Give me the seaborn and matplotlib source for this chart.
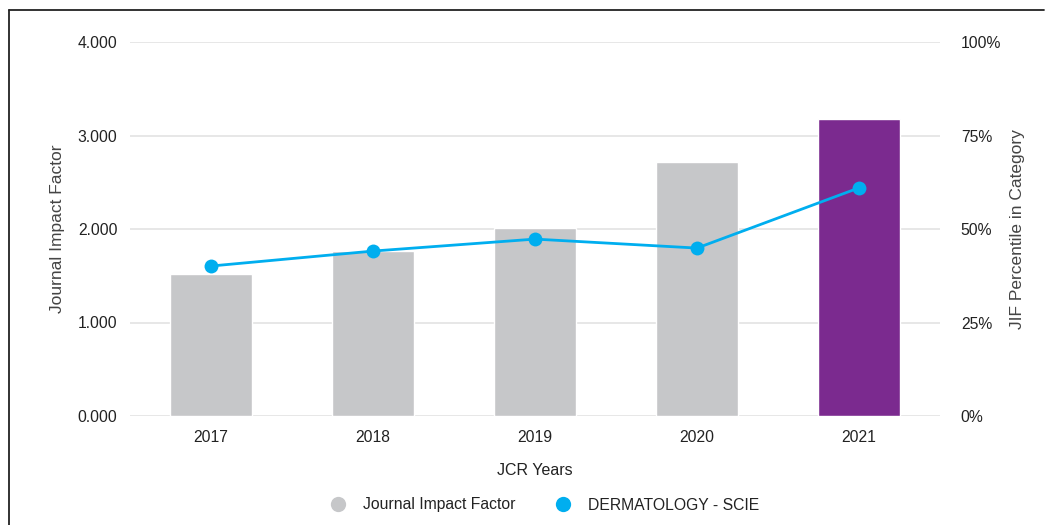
import matplotlib
matplotlib.use("Agg")
import matplotlib.pyplot as plt
import seaborn as sns
import numpy as np
from matplotlib.lines import Line2D

years = ["2017", "2018", "2019", "2020", "2021"]
jif = [1.519, 1.765, 2.010, 2.717, 3.176]
percentile = [40.1, 44.1, 47.3, 44.9, 61.0]
y_ticks = [0, 1, 2, 3, 4]
y_ticklabels = ["0.000", "1.000", "2.000", "3.000", "4.000"]
p_ticks = [0, 25, 50, 75, 100]
p_ticklabels = ["0%", "25%", "50%", "75%", "100%"]
bar_colors = ["#c6c7c9", "#c6c7c9", "#c6c7c9", "#c6c7c9", "#7b2a8f"]
line_color = "#00aeef"

sns.set_theme(style="white")
plt.rcParams["font.family"] = ["Liberation Sans", "DejaVu Sans"]

W, H = 1045, 525
fig = plt.figure(figsize=(W / 100, H / 100), dpi=100)
ax = fig.add_axes([130 / W, 1 - 416 / H, 810 / W, 374 / H])

sns.barplot(x=years, y=jif, hue=years, palette=bar_colors, legend=False,
            width=0.506, ax=ax, saturation=1, zorder=2)
ax.set_xlim(-0.5, 4.5)
ax.set_ylim(0, 4)
ax.set_yticks(y_ticks)
ax.set_yticklabels(y_ticklabels)
ax.yaxis.grid(True, color="#e3e3e3", linewidth=1.2, zorder=0)
ax.set_axisbelow(True)
for s in ax.spines.values():
    s.set_visible(False)
ax.tick_params(axis="both", length=0, labelsize=11.3, labelcolor="#222222")
ax.tick_params(axis="y", pad=9)
ax.tick_params(axis="x", pad=10)
ax.set_xlabel("JCR Years", fontsize=11.5, color="#222222", labelpad=13)
ax.set_ylabel("Journal Impact Factor", fontsize=12.5, color="#444444", labelpad=9)

ax2 = ax.twinx()
sns.lineplot(x=np.arange(len(years)), y=percentile, ax=ax2, color=line_color,
             linewidth=2, marker="o", markersize=10, markeredgewidth=0, zorder=5)
ax2.set_ylim(0, 100)
ax2.set_xlim(-0.5, 4.5)
ax2.set_yticks(p_ticks)
ax2.set_yticklabels(p_ticklabels)
for s in ax2.spines.values():
    s.set_visible(False)
ax2.tick_params(axis="y", length=0, labelsize=11.3, labelcolor="#222222", pad=15)
ax2.set_ylabel("JIF Percentile in Category", fontsize=12.5, color="#444444", labelpad=6)

handles = [
    Line2D([0], [0], marker="o", color="none", markerfacecolor="#c6c7c9",
           markeredgewidth=0, markersize=11),
    Line2D([0], [0], marker="o", color="none", markerfacecolor=line_color,
           markeredgewidth=0, markersize=11),
]
fig.legend(handles, ["Journal Impact Factor", "DERMATOLOGY - SCIE"],
           loc="center", bbox_to_anchor=(541 / W, 1 - 505 / H), ncol=2,
           frameon=False, fontsize=11.3, handletextpad=0.6, columnspacing=2.0,
           labelcolor="#222222")

# frame lines
fx = 8.5 / W
fy = 1 - 10 / H
fig.add_artist(Line2D([fx, fx], [0, fy], color="#222222", linewidth=1.3,
                      transform=fig.transFigure))
fig.add_artist(Line2D([fx, 1044 / W], [fy, fy], color="#222222", linewidth=1.3,
                      transform=fig.transFigure))

fig.savefig("out.png", dpi=100, facecolor="white")
